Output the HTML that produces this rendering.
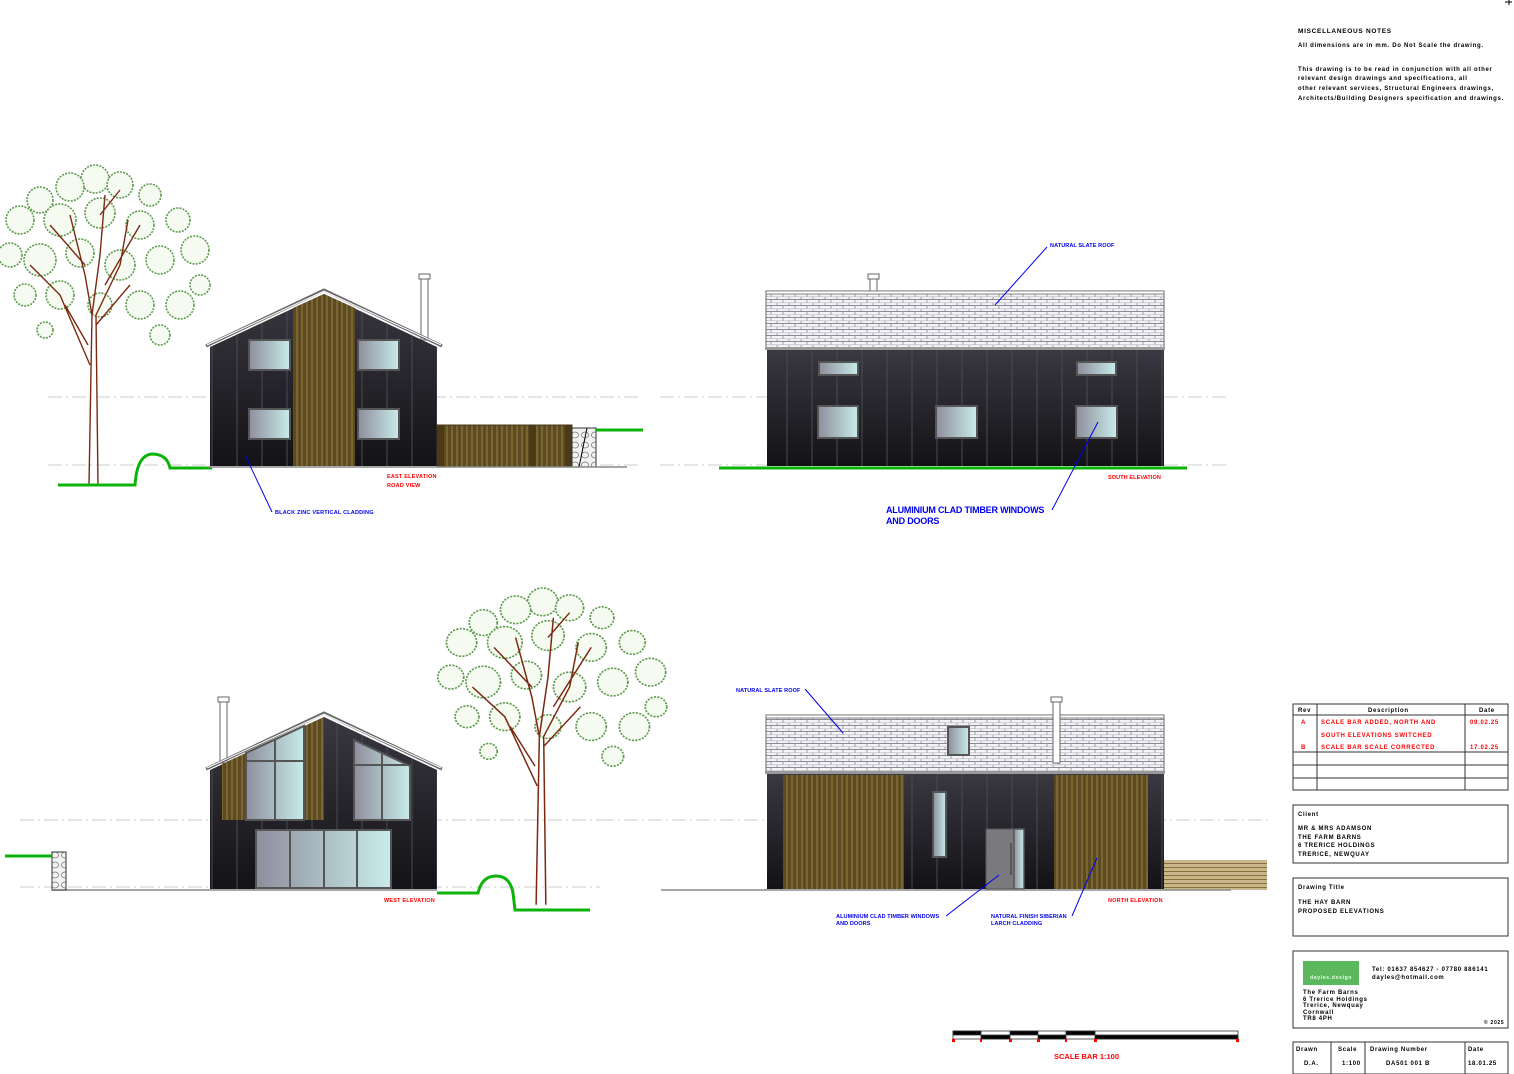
<!DOCTYPE html>
<html><head><meta charset="utf-8"><style>
html,body{margin:0;padding:0;background:#fff;}
svg{display:block;}
text{font-family:"Liberation Sans",sans-serif;font-weight:bold;letter-spacing:0.7px;}
</style></head><body>
<svg width="1514" height="1074" viewBox="0 0 1514 1074" xmlns="http://www.w3.org/2000/svg">
<defs>
<linearGradient id="dark" x1="0" y1="0" x2="0" y2="1"><stop offset="0" stop-color="#3a3840"/><stop offset="1" stop-color="#131216"/></linearGradient>
<linearGradient id="glass" x1="0" y1="0" x2="1" y2="0"><stop offset="0" stop-color="#8e8e9c"/><stop offset="1" stop-color="#c8ecea"/></linearGradient>
<pattern id="clad" width="25" height="10" patternUnits="userSpaceOnUse"><line x1="12" y1="0" x2="12" y2="10" stroke="#4a4a55" stroke-width="1"/></pattern>
<pattern id="timber" width="5" height="10" patternUnits="userSpaceOnUse"><rect width="5" height="10" fill="#5b4a22"/><line x1="2" y1="0" x2="2" y2="10" stroke="#9b8040" stroke-width="1"/></pattern>
<pattern id="slate" width="12" height="6" patternUnits="userSpaceOnUse"><rect width="12" height="6" fill="#f4f4f6"/><line x1="0" y1="5.5" x2="12" y2="5.5" stroke="#8a8a96" stroke-width="1"/><line x1="3" y1="0" x2="3" y2="3" stroke="#8a8a96" stroke-width="0.8"/><line x1="9" y1="3" x2="9" y2="6" stroke="#8a8a96" stroke-width="0.8"/><line x1="0" y1="2.8" x2="12" y2="2.8" stroke="#b0b0ba" stroke-width="0.6"/></pattern>
<pattern id="deck" width="103" height="4" patternUnits="userSpaceOnUse"><rect width="103" height="4" fill="#c9b68d"/><line x1="0" y1="3.5" x2="103" y2="3.5" stroke="#8a6f3a" stroke-width="1"/></pattern>
<pattern id="stone" width="10" height="10" patternUnits="userSpaceOnUse"><rect width="10" height="10" fill="#f2f2f2"/><ellipse cx="5" cy="5" rx="3.5" ry="3" fill="none" stroke="#777" stroke-width="0.8"/></pattern>
<g id="tree">
 <g fill="#f6fbf2" stroke="#5e9a4e" stroke-width="1.6" stroke-dasharray="2 1.2">
  <circle cx="95" cy="14" r="14"/><circle cx="70" cy="22" r="14"/><circle cx="120" cy="20" r="13"/>
  <circle cx="40" cy="35" r="13"/><circle cx="150" cy="30" r="11"/><circle cx="20" cy="55" r="14"/>
  <circle cx="60" cy="55" r="16"/><circle cx="100" cy="48" r="15"/><circle cx="140" cy="60" r="14"/>
  <circle cx="178" cy="55" r="12"/><circle cx="195" cy="85" r="14"/><circle cx="10" cy="90" r="12"/>
  <circle cx="40" cy="95" r="16"/><circle cx="80" cy="88" r="14"/><circle cx="120" cy="100" r="15"/>
  <circle cx="160" cy="95" r="14"/><circle cx="200" cy="120" r="10"/><circle cx="60" cy="130" r="14"/>
  <circle cx="100" cy="140" r="12"/><circle cx="140" cy="140" r="14"/><circle cx="180" cy="140" r="14"/>
  <circle cx="25" cy="130" r="11"/><circle cx="160" cy="170" r="10"/><circle cx="45" cy="165" r="8"/>
 </g>
 <g fill="none" stroke="#7a2a12" stroke-width="1.4">
  <path d="M89 320 L92 150 L85 110 L70 50 M92 150 L100 90 L105 30 M98 320 L96 150 L120 100 L128 55 M90 200 L60 130 L30 100 M88 180 L65 140 M96 160 L130 120 M105 120 L140 60 M85 100 L50 60 M100 50 L120 25"/>
 </g>
</g>
</defs>

<!-- notes -->
<text x="1298" y="33" font-size="6.5">MISCELLANEOUS NOTES</text>
<text x="1298" y="47" font-size="6">All dimensions are in mm. Do Not Scale the drawing.</text>
<text x="1298" y="71" font-size="6">This drawing is to be read in conjunction with all other</text>
<text x="1298" y="80" font-size="6">relevant design drawings and specifications, all</text>
<text x="1298" y="90" font-size="6">other relevant services, Structural Engineers drawings,</text>
<text x="1298" y="100" font-size="6">Architects/Building Designers specification and drawings.</text>
<path d="M1505 2 H1512 M1509 0 V5" stroke="#000"/>

<!-- datum lines -->
<g stroke="#ccc" stroke-width="1" stroke-dasharray="14 4 2 4">
<line x1="48" y1="397" x2="640" y2="397"/><line x1="48" y1="465" x2="640" y2="465"/>
<line x1="660" y1="397" x2="1228" y2="397"/><line x1="660" y1="465" x2="1228" y2="465"/>
<line x1="20" y1="820" x2="600" y2="820"/><line x1="20" y1="887" x2="600" y2="887"/>
<line x1="600" y1="820" x2="1270" y2="820"/>
</g>

<!-- TREE 1 -->
<use href="#tree" x="0" y="165"/>
<path d="M58 485 H135 Q137 455 152 454 Q167 454 170 468 H212" fill="none" stroke="#0bb30b" stroke-width="3"/>

<!-- EAST ELEVATION -->
<rect x="421" y="278" width="7" height="62" fill="#fff" stroke="#666"/>
<rect x="419" y="274" width="11" height="5" fill="#fff" stroke="#666"/>
<polygon points="210,347 324,294 437,347 437,466 210,466" fill="url(#dark)"/>
<polygon points="210,347 324,294 437,347 437,466 210,466" fill="url(#clad)"/>
<polygon points="293,308 324,294 355,308 355,466 293,466" fill="url(#timber)"/>
<path d="M206 346 L324 290 L442 346" fill="none" stroke="#666" stroke-width="3"/>
<path d="M207 345 L324 291 L441 345" fill="none" stroke="#fff" stroke-width="1"/>
<g stroke="#555" stroke-width="2" fill="url(#glass)">
<rect x="249" y="340" width="41" height="30"/><rect x="358" y="340" width="41" height="30"/>
<rect x="249" y="409" width="41" height="30"/><rect x="358" y="409" width="41" height="30"/>
</g>
<rect x="437" y="425" width="135" height="42" fill="url(#timber)"/>
<rect x="437" y="425" width="135" height="42" fill="none" stroke="#4a3a18"/>
<rect x="437" y="425" width="7" height="42" fill="#4a3a18"/><rect x="529" y="425" width="7" height="42" fill="#4a3a18"/><rect x="565" y="425" width="7" height="42" fill="#4a3a18"/>
<rect x="572" y="428" width="24" height="39" fill="url(#stone)" stroke="#333"/>
<line x1="587" y1="428" x2="579" y2="467" stroke="#000"/>
<line x1="596" y1="430" x2="643" y2="430" stroke="#0bb30b" stroke-width="3"/>
<line x1="208" y1="467" x2="627" y2="467" stroke="#888" stroke-width="1.5"/>
<line x1="245" y1="455" x2="272" y2="512" stroke="#0000ee" stroke-width="1"/>
<text x="275" y="514" font-size="5.5" fill="#0000ee" style="letter-spacing:0.2px">BLACK ZINC VERTICAL CLADDING</text>
<text x="387" y="478" font-size="5.5" fill="#ff0000" style="letter-spacing:0.2px">EAST ELEVATION</text>
<text x="387" y="487" font-size="5.5" fill="#ff0000" style="letter-spacing:0.2px">ROAD VIEW</text>

<!-- SOUTH ELEVATION -->
<rect x="870" y="278" width="7" height="13" fill="#fff" stroke="#666"/><rect x="868" y="274" width="11" height="5" fill="#fff" stroke="#666"/>
<rect x="766" y="291" width="398" height="58" fill="url(#slate)" stroke="#666"/>
<rect x="766" y="291" width="398" height="3" fill="#fff" stroke="#666" stroke-width="0.8"/>
<rect x="765" y="347" width="400" height="3" fill="#999"/>
<rect x="767" y="350" width="397" height="116" fill="url(#dark)"/>
<rect x="767" y="350" width="397" height="116" fill="url(#clad)"/>
<g stroke="#555" stroke-width="2" fill="url(#glass)">
<rect x="819" y="362" width="39" height="13"/><rect x="1077" y="362" width="39" height="13"/>
<rect x="818" y="406" width="40" height="32"/><rect x="936" y="406" width="41" height="32"/><rect x="1076" y="406" width="41" height="32"/>
</g>
<line x1="719" y1="468" x2="1187" y2="468" stroke="#0bb30b" stroke-width="3"/>
<line x1="995" y1="305" x2="1047" y2="247" stroke="#0000ee"/>
<text x="1050" y="247" font-size="5.5" fill="#0000ee" style="letter-spacing:0.1px">NATURAL SLATE ROOF</text>
<line x1="1098" y1="422" x2="1052" y2="510" stroke="#0000ee"/>
<text x="886" y="513" font-size="9" fill="#0000ee" style="letter-spacing:-0.2px">ALUMINIUM CLAD TIMBER WINDOWS</text>
<text x="886" y="524" font-size="9" fill="#0000ee" style="letter-spacing:-0.2px">AND DOORS</text>
<text x="1108" y="479" font-size="5.5" fill="#ff0000" style="letter-spacing:0.1px">SOUTH ELEVATION</text>

<!-- WEST ELEVATION -->
<rect x="220" y="701" width="7" height="62" fill="#fff" stroke="#666"/><rect x="218" y="697" width="11" height="5" fill="#fff" stroke="#666"/>
<polygon points="210,770 324,717 437,770 437,889 210,889" fill="url(#dark)"/>
<polygon points="210,770 324,717 437,770 437,889 210,889" fill="url(#clad)"/>
<polygon points="222,764 324,717 324,820 222,820" fill="url(#timber)"/>
<g stroke="#555" stroke-width="2" fill="url(#glass)">
<polygon points="246,753 304,726 304,820 246,820"/>
<line x1="246" y1="761" x2="304" y2="761"/><line x1="275" y1="740" x2="275" y2="820"/>
<polygon points="354,740 410,766 410,820 354,820"/>
<line x1="354" y1="765" x2="410" y2="765"/><line x1="382" y1="753" x2="382" y2="820"/>
<rect x="256" y="830" width="135" height="58"/>
<line x1="290" y1="830" x2="290" y2="888"/><line x1="324" y1="830" x2="324" y2="888"/><line x1="357" y1="830" x2="357" y2="888"/>
</g>
<path d="M206 769 L324 713 L442 769" fill="none" stroke="#666" stroke-width="3"/>
<path d="M207 768 L324 714 L441 768" fill="none" stroke="#fff" stroke-width="1"/>
<line x1="52" y1="890" x2="437" y2="890" stroke="#888" stroke-width="1.5"/>
<rect x="52" y="852" width="14" height="38" fill="url(#stone)" stroke="#333"/>
<line x1="5" y1="856" x2="52" y2="856" stroke="#0bb30b" stroke-width="3"/>
<text x="384" y="902" font-size="5.5" fill="#ff0000" style="letter-spacing:0.2px">WEST ELEVATION</text>

<!-- TREE 2 -->
<use href="#tree" transform="translate(440,588) scale(1.08,0.99)"/>
<path d="M437 893 H478 Q482 876 496 876 Q510 876 513 893 L515 910 H590" fill="none" stroke="#0bb30b" stroke-width="3"/>

<!-- NORTH ELEVATION -->
<rect x="766" y="715" width="398" height="58" fill="url(#slate)" stroke="#666"/>
<rect x="766" y="715" width="398" height="3" fill="#fff" stroke="#666" stroke-width="0.8"/>
<rect x="765" y="771" width="400" height="3" fill="#999"/>
<rect x="948" y="727" width="21" height="28" fill="url(#glass)" stroke="#555" stroke-width="2"/>
<rect x="1053" y="701" width="7" height="62" fill="#fff" stroke="#666"/><rect x="1051" y="697" width="11" height="5" fill="#fff" stroke="#666"/>
<rect x="767" y="774" width="397" height="115" fill="url(#dark)"/>
<rect x="767" y="774" width="397" height="115" fill="url(#clad)"/>
<rect x="783" y="775" width="121" height="114" fill="url(#timber)"/>
<rect x="1054" y="775" width="94" height="114" fill="url(#timber)"/>
<rect x="933" y="792" width="13" height="65" fill="url(#glass)" stroke="#555" stroke-width="2"/>
<rect x="986" y="829" width="28" height="60" fill="#7a7a7e" stroke="#555"/>
<line x1="1011" y1="843" x2="1011" y2="875" stroke="#333"/>
<rect x="1014" y="829" width="10" height="60" fill="url(#glass)" stroke="#555" stroke-width="1.5"/>
<rect x="1164" y="860" width="103" height="30" fill="url(#deck)"/>
<line x1="661" y1="890" x2="1231" y2="890" stroke="#888" stroke-width="1.5"/>
<line x1="805" y1="689" x2="843" y2="733" stroke="#0000ee"/>
<text x="736" y="692" font-size="5.5" fill="#0000ee" style="letter-spacing:0.1px">NATURAL SLATE ROOF</text>
<line x1="999" y1="875" x2="946" y2="916" stroke="#0000ee"/>
<text x="836" y="918" font-size="5.5" fill="#0000ee" style="letter-spacing:0.1px">ALUMINIUM CLAD TIMBER WINDOWS</text>
<text x="836" y="925" font-size="5.5" fill="#0000ee" style="letter-spacing:0.1px">AND DOORS</text>
<line x1="1097" y1="858" x2="1072" y2="916" stroke="#0000ee"/>
<text x="991" y="918" font-size="5.5" fill="#0000ee" style="letter-spacing:0.1px">NATURAL FINISH SIBERIAN</text>
<text x="991" y="925" font-size="5.5" fill="#0000ee" style="letter-spacing:0.1px">LARCH CLADDING</text>
<text x="1108" y="902" font-size="5.5" fill="#ff0000" style="letter-spacing:0.2px">NORTH ELEVATION</text>

<!-- scale bar -->
<g stroke="#333" stroke-width="0.8">
<rect x="953" y="1031" width="285" height="8" fill="#fff"/>
<rect x="953" y="1031" width="28" height="4" fill="#000"/><rect x="981" y="1035" width="29" height="4" fill="#000"/>
<rect x="1010" y="1031" width="28" height="4" fill="#000"/><rect x="1038" y="1035" width="28" height="4" fill="#000"/>
<rect x="1066" y="1031" width="29" height="4" fill="#000"/><rect x="1095" y="1035" width="143" height="4" fill="#000"/>
</g>
<g fill="#f00"><rect x="952" y="1039" width="3" height="3"/><rect x="980" y="1039" width="2" height="3"/><rect x="1009" y="1039" width="3" height="3"/><rect x="1037" y="1039" width="3" height="3"/><rect x="1065" y="1039" width="2" height="3"/><rect x="1094" y="1039" width="3" height="3"/><rect x="1236" y="1039" width="3" height="3"/></g>
<text x="1054" y="1059" font-size="7.5" fill="#ff0000" style="letter-spacing:0">SCALE BAR 1:100</text>

<!-- title block -->
<g fill="none" stroke="#333" stroke-width="1">
<rect x="1293" y="704" width="215" height="86"/>
<line x1="1293" y1="715" x2="1508" y2="715"/><line x1="1293" y1="752" x2="1508" y2="752"/><line x1="1293" y1="765" x2="1508" y2="765"/><line x1="1293" y1="778" x2="1508" y2="778"/>
<line x1="1317" y1="704" x2="1317" y2="790"/><line x1="1465" y1="704" x2="1465" y2="790"/>
<rect x="1293" y="805" width="215" height="58"/>
<rect x="1293" y="878" width="215" height="58"/>
<rect x="1293" y="951" width="215" height="77"/>
<rect x="1293" y="1042" width="215" height="32"/>
<line x1="1331" y1="1042" x2="1331" y2="1074"/><line x1="1365" y1="1042" x2="1365" y2="1074"/><line x1="1465" y1="1042" x2="1465" y2="1074"/>
</g>
<g font-size="6">
<text x="1298" y="712">Rev</text><text x="1368" y="712">Description</text><text x="1479" y="712">Date</text>
<g fill="#ff0000"><text x="1301" y="724">A</text><text x="1321" y="724">SCALE BAR ADDED, NORTH AND</text><text x="1470" y="724">09.02.25</text>
<text x="1321" y="737">SOUTH ELEVATIONS SWITCHED</text>
<text x="1301" y="749">B</text><text x="1321" y="749">SCALE BAR SCALE CORRECTED</text><text x="1470" y="749">17.02.25</text></g>
<text x="1298" y="816">Client</text>
<text x="1298" y="830">MR &amp; MRS ADAMSON</text><text x="1298" y="839">THE FARM BARNS</text><text x="1298" y="847">6 TRERICE HOLDINGS</text><text x="1298" y="856">TRERICE, NEWQUAY</text>
<text x="1298" y="889">Drawing Title</text>
<text x="1298" y="904">THE HAY BARN</text><text x="1298" y="913">PROPOSED ELEVATIONS</text>
<rect x="1303" y="961" width="56" height="24" fill="#5cb85c"/>
<text x="1310" y="979" fill="#e8ffe8" font-size="5">dayles.design</text>
<text x="1372" y="971">Tel:  01637 854627 - 07780 886141</text><text x="1372" y="979">dayles@hotmail.com</text>
<text x="1303" y="994">The Farm Barns</text><text x="1303" y="1001">6 Trerice Holdings</text><text x="1303" y="1007">Trerice, Newquay</text><text x="1303" y="1014">Cornwall</text><text x="1303" y="1020">TR8 4PH</text>
<text x="1484" y="1024" font-size="5">© 2025</text>
<text x="1296" y="1051">Drawn</text><text x="1338" y="1051">Scale</text><text x="1370" y="1051">Drawing Number</text><text x="1468" y="1051">Date</text>
<text x="1304" y="1065">D.A.</text><text x="1342" y="1065">1:100</text><text x="1386" y="1065">DA501 001 B</text><text x="1468" y="1065">18.01.25</text>
</g>
</svg>
</body></html>
